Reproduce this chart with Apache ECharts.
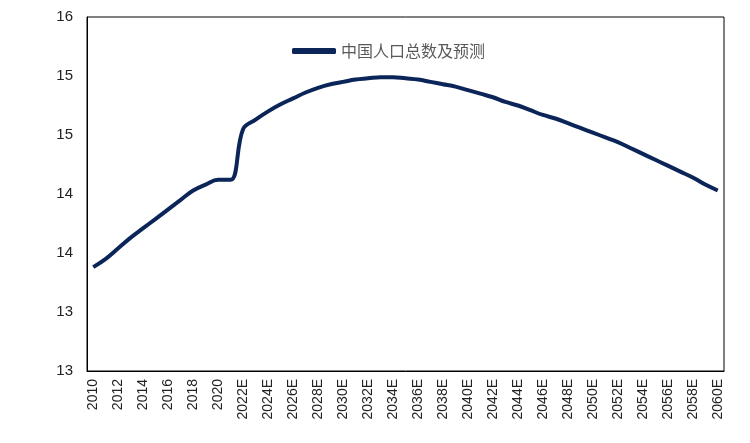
<!DOCTYPE html>
<html>
<head>
<meta charset="utf-8">
<script src="https://cdn.jsdelivr.net/npm/echarts@6/dist/echarts.min.js"></script>
<style>
	html, body { margin: 0; padding: 0; background: #fff; }
	#main { width: 750px; height: 443px; }
</style>
</head>
<body>
<div id="main"></div>
<script>
// years 2010..2060, forecast years carry an E
var years = [];
for (let y = 2010; y <= 2060; y++) {
	years.push(y >= 2022 ? y + 'E' : String(y));
}
var popValues = [
	13.88, 13.95, 14.04, 14.13, 14.21, 14.29, 14.37, 14.45, 14.53, 14.58,
	14.62, 14.62, 15.05, 15.13, 15.20, 15.26, 15.31, 15.36, 15.40, 15.43,
	15.45, 15.47, 15.48, 15.49, 15.49, 15.48, 15.47, 15.45, 15.43, 15.41,
	15.38, 15.35, 15.32, 15.28, 15.25, 15.21, 15.17, 15.14, 15.10, 15.06,
	15.02, 14.98, 14.94, 14.89, 14.84, 14.79, 14.74, 14.69, 14.64, 14.58,
	14.53
];
var yTickLabels = { '13': '13', '13.5': '13', '14': '14', '14.5': '14', '15': '15', '15.5': '15', '16': '16' };
var seriesName = '中国人口总数及预测';

let myChart = echarts.init(document.getElementById('main'));
let option = {
	animation: false,
	grid: {
		left: 87, right: 26, top: 17, bottom: 72,
		show: true, borderColor: '#000', borderWidth: 1
	},
	legend: {
		data: [seriesName],
		left: 287, top: 38,
		itemWidth: 44, itemHeight: 6,
		icon: 'roundRect',
		textStyle: { color: '#595959', fontSize: 16, fontFamily: 'Noto Sans CJK SC' }
	},
	xAxis: {
		type: 'category',
		data: years,
		boundaryGap: true,
		axisLine: { lineStyle: { color: '#000' } },
		axisTick: { show: false },
		axisLabel: {
			interval: 1, rotate: 90, color: '#222', fontSize: 14,
			fontFamily: 'Liberation Sans'
		}
	},
	yAxis: {
		type: 'value',
		min: 13, max: 16, interval: 0.5,
		splitLine: { show: false },
		axisLine: { show: true, lineStyle: { color: '#000' } },
		axisTick: { show: false },
		axisLabel: {
			color: '#222', fontSize: 15, fontFamily: 'Liberation Sans', margin: 14,
			formatter: function(v) { return yTickLabels[String(v)]; }
		}
	},
	series: [{
		name: seriesName,
		type: 'line',
		data: popValues,
		smooth: 0.4,
		showSymbol: false,
		symbol: 'none',
		itemStyle: { color: '#0b2559' },
		lineStyle: { color: '#0b2559', width: 4 }
	}]
};
option && myChart.setOption(option);
</script>
</body>
</html>
